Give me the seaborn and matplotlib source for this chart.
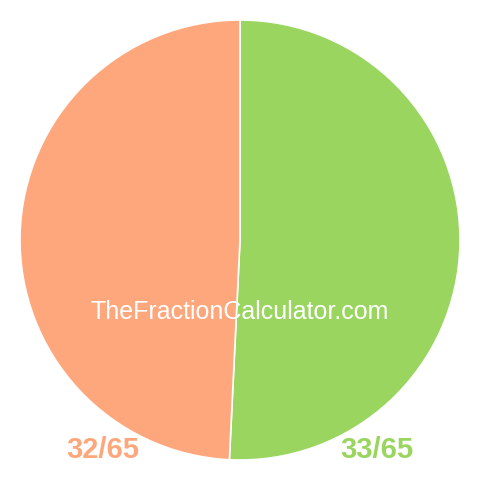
"""Pie chart of a fraction"""

import matplotlib
matplotlib.use("Agg")
import matplotlib.pyplot as plt
import seaborn as sns

# Data
labels = ["33/65", "32/65"]
values = [33, 32]
colors = ["#99D55F", "#FFA77C"]

sns.set_style("white")
plt.rcParams['font.family'] = ['Liberation Sans', 'DejaVu Sans']

fig = plt.figure(figsize=(4.8, 4.8), dpi=100)
ax = fig.add_axes([0, 0, 1, 1])
ax.pie(values, colors=sns.color_palette(colors), startangle=90, counterclock=False,
       radius=220, center=(240, 240),
       wedgeprops=dict(edgecolor="white", linewidth=1.2))
ax.set_xlim(0, 480)
ax.set_ylim(0, 480)
ax.set_aspect("equal")
ax.axis("off")

ax.text(240, 168, "TheFractionCalculator.com", color="white", fontsize=18,
        ha="center", va="center")
ax.text(103, 30, labels[1], color=colors[1], fontsize=21, fontweight="bold",
        ha="center", va="center")
ax.text(377, 30, labels[0], color=colors[0], fontsize=21, fontweight="bold",
        ha="center", va="center")

plt.savefig("out.png", dpi=100)
